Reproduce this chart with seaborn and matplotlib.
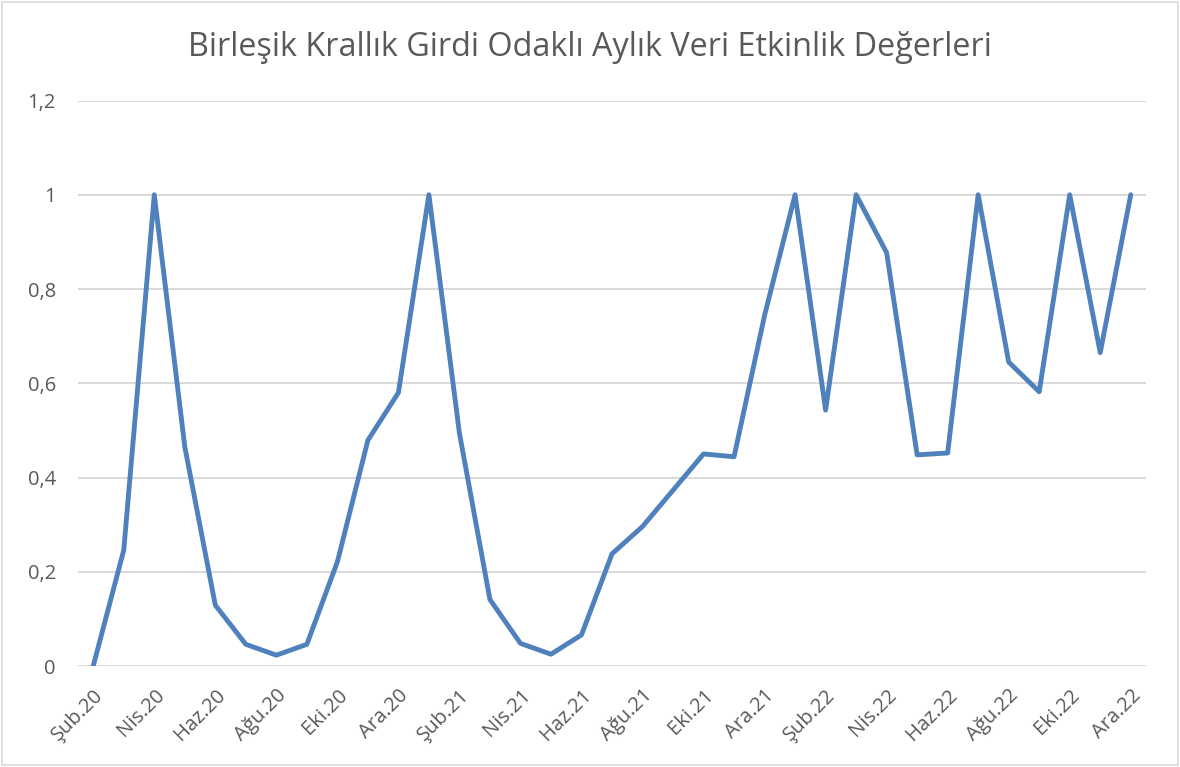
import pandas as pd
import matplotlib.pyplot as plt
import seaborn as sns

# Turkish month abbreviations, data runs Şub.20 .. Ara.22
month_names = ["Oca", "Şub", "Mar", "Nis", "May", "Haz",
               "Tem", "Ağu", "Eyl", "Eki", "Kas", "Ara"]
years = ["20", "21", "22"]

efficiency = [
    0.0, 0.246, 1.0, 0.465, 0.129, 0.046, 0.023, 0.046, 0.221, 0.479, 0.580,
    1.0, 0.494, 0.141, 0.048, 0.025, 0.066, 0.238, 0.296, 0.373, 0.450, 0.444, 0.744,
    1.0, 0.543, 1.0, 0.877, 0.448, 0.452, 1.0, 0.645, 0.582, 1.0, 0.665, 1.0,
]

labels = [f"{m}.{y}" for y in years for m in month_names][1:]
df = pd.DataFrame({"idx": range(len(efficiency)), "month": labels, "value": efficiency})

sns.set_style("white")
plt.rcParams["font.family"] = ["Open Sans", "DejaVu Sans"]

fig = plt.figure(figsize=(11.8, 7.67), dpi=100)
ax = fig.add_axes([78 / 1180, 1 - 666 / 767, (1146 - 78) / 1180, (666 - 100.5) / 767])

sns.lineplot(data=df, x="idx", y="value", ax=ax, color="#4F81BD", linewidth=3.5,
             solid_joinstyle="round", solid_capstyle="round", zorder=3)

ax.set_xlim(-0.5, len(efficiency) - 0.5)
ax.set_ylim(0, 1.2)
yt = [0, 0.2, 0.4, 0.6, 0.8, 1.0, 1.2]
ax.set_yticks(yt)
ax.set_yticklabels(["0", "0,2", "0,4", "0,6", "0,8", "1", "1,2"])
ax.set_xticks(df["idx"][::2])
ax.set_xticklabels(df["month"][::2], rotation=45, ha="right", rotation_mode="anchor")

ax.grid(axis="y", color="#D9D9D9", linewidth=1.4)
ax.grid(axis="x", visible=False)
for s in ax.spines.values():
    s.set_visible(False)
ax.tick_params(axis="both", length=0, labelsize=14.5, colors="#595959")
ax.tick_params(axis="y", pad=16)
ax.tick_params(axis="x", pad=14)
ax.set_xlabel("")
ax.set_ylabel("")

fig.text(0.5, 1 - 47 / 767, "Birleşik Krallık Girdi Odaklı Aylık Veri Etkinlik Değerleri",
         ha="center", va="center", fontsize=23.3, color="#595959")

# chart border
fig.patches.append(plt.Rectangle((0.002, 0.002), 0.996, 0.996, transform=fig.transFigure,
                                 fill=False, edgecolor="#D9D9D9", linewidth=1.2))

fig.savefig("out.png", dpi=100)
